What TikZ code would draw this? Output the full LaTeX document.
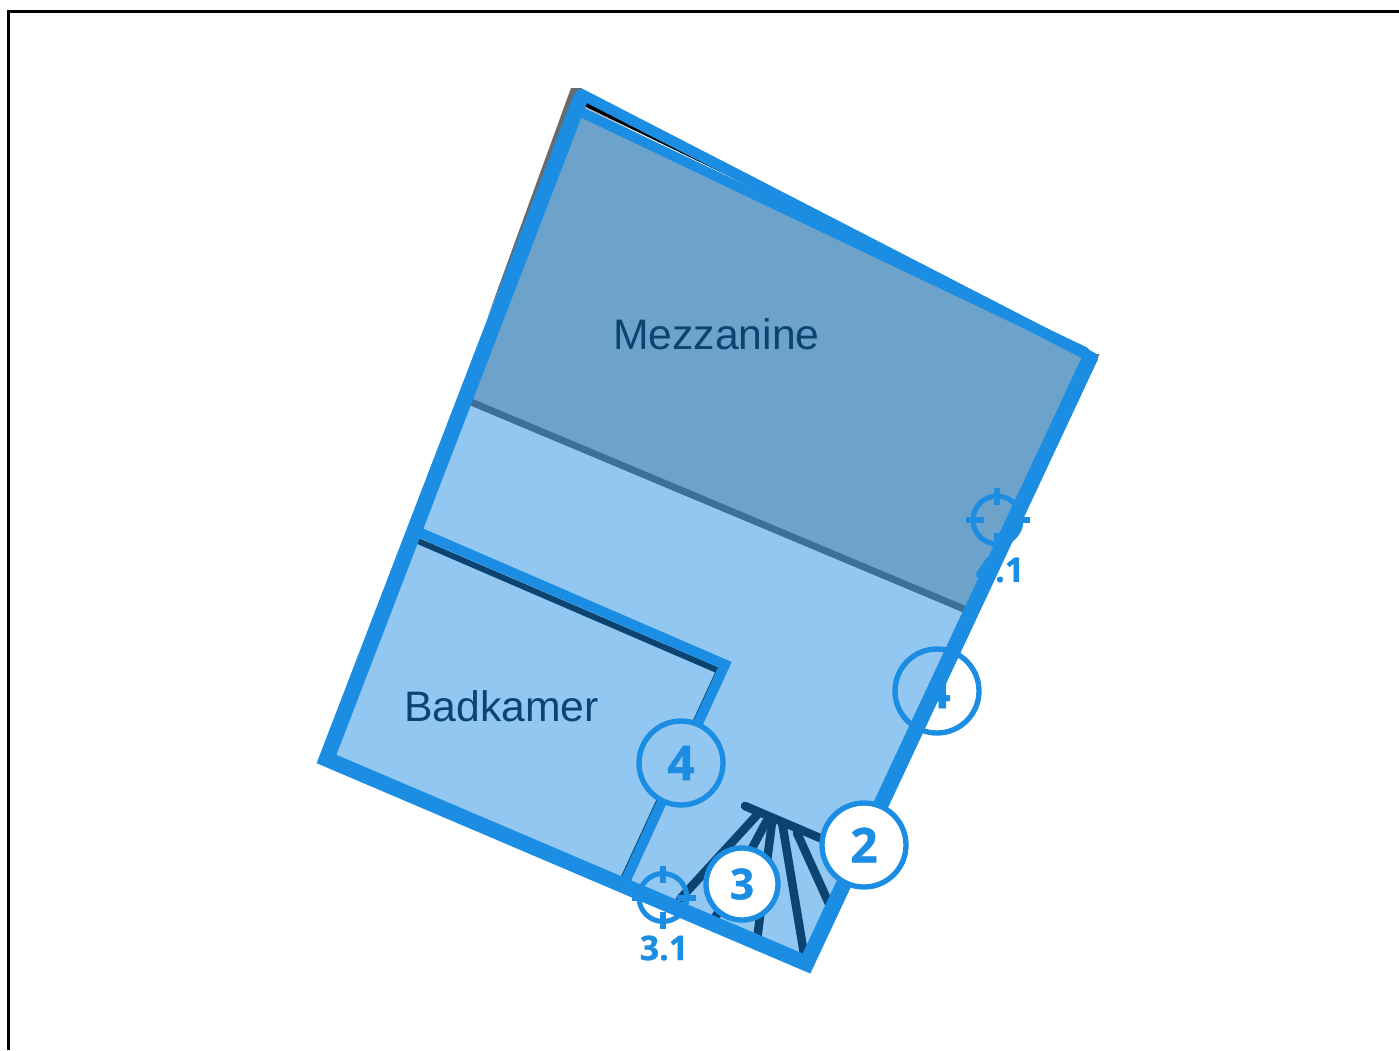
\documentclass[tikz,border=0pt]{standalone}
\usepackage{fontspec}
\setmainfont{Liberation Sans}
\newfontfamily\numfont[BoldFeatures={FakeBold=0.8}]{Open Sans}
\definecolor{wallblue}{HTML}{1B8DE3}
\definecolor{roomlight}{HTML}{91C7F0}
\definecolor{mezzdark}{HTML}{6DA3CB}
\definecolor{mezzedge}{HTML}{3F6F97}
\definecolor{navy}{HTML}{0B4470}
\definecolor{shadowgrey}{HTML}{6A6A6A}
\tikzset{
  wall/.style={draw=wallblue,line join=miter},
  stair/.style={draw=navy,line width=6.4pt,line cap=round},
  tagring/.style={circle,draw=wallblue,line width=4pt,minimum size=63pt,inner sep=0pt,text=wallblue,font=\numfont\bfseries\fontsize{36}{36}\selectfont},
  sight/.style={draw=wallblue,line width=3.8pt},
  tick/.style={draw=wallblue,line width=4.6pt},
  levellabel/.style={text=wallblue,inner sep=0pt,font=\numfont\bfseries\fontsize{25.5}{25.5}\selectfont},
  roomname/.style={text=navy,inner sep=0pt,font=\fontsize{32}{32}\selectfont}
}
\begin{document}
\begin{tikzpicture}[x=0.75pt,y=-0.75pt]
\useasboundingbox (0,0) rectangle (1399,1050);
% frame
\draw[black,line width=2.2pt] (8.5,1050) -- (8.5,11.5) -- (1399,11.5);
% grey shadow edges
\fill[shadowgrey] (571,88) -- (582,88) -- (488,316) -- cycle;
\fill[shadowgrey] (1099.5,354) -- (1090,354) -- (1030,500) -- cycle;
% rooms
\fill[roomlight] (580,100) -- (1090,357) -- (808,963) -- (327,759) -- cycle;
\fill[mezzdark] (578,112) -- (1084,355) -- (964,609) -- (471,402) -- cycle;
\draw[mezzedge,line width=5.2pt] (471,402) -- (964,609);
% top sliver
\fill[white] (582,99) -- (790,206) -- (582,108) -- cycle;
\fill[black!25] (582,104) -- (660,145) -- (582,108) -- cycle;
\fill[black] (582,100) -- (770,196) -- (582,105) -- cycle;
% symbols beneath the walls
\node[tagring] (tagE) at (937,691) {4};
\node[levellabel] (lblE) at (1000,570) {4.1};
% stairs
\draw[stair] (745,806) -- (820,838);
\draw[stair] (757,815) -- (680,899);
\draw[stair] (766,822) -- (715,918);
\draw[stair] (772,822) -- (757,940);
\draw[stair] (782,822) -- (805,960);
\draw[stair] (797,833) -- (831,908);
% survey marks
\draw[sight] (997,520) circle[radius=24];
\draw[tick] (997,488) -- (997,505) (997,533) -- (997,551) (966,520) -- (984,520) (1012,520) -- (1030,520);
\draw[sight] (663,897.5) circle[radius=24];
\draw[tick] (663,866) -- (663,883) (663,912) -- (663,929) (632,898) -- (650,898) (677,898) -- (696,898);
% walls
\draw[navy,line width=4.5pt] (418,541) -- (717,670);
\draw[navy,line width=1pt] (716,672) -- (621,878);
\draw[wall,line width=11.6pt] (581,97) -- (326.5,759) -- (806.5,963.5) -- (1090,358);
\draw[wall,line width=7.5pt,line cap=round] (579,111) -- (1085,352);
\draw[wall,line width=8pt,line cap=round] (581,94) -- (1093,358);
\draw[wall,line width=7.5pt] (421,533) -- (725,664.5) -- (625,882);
\fill[wallblue] (725,664.5) circle[radius=5];
% tags above the walls
\node[tagring,fill=roomlight] (tagW) at (681,763) {4};
\node[tagring,fill=white,minimum size=54pt,font=\numfont\bfseries\fontsize{32}{32}\selectfont] (tagS) at (742,884) {3};
\node[tagring,fill=white] (tagR) at (864,845) {2};
\node[levellabel] (lblS) at (664,948) {3.1};
% room names
\node[roomname] (mezz) at (716.5,334) {Mezzanine};
\node[roomname] (bad) at (501.5,706) {Badkamer};
\end{tikzpicture}
\end{document}
